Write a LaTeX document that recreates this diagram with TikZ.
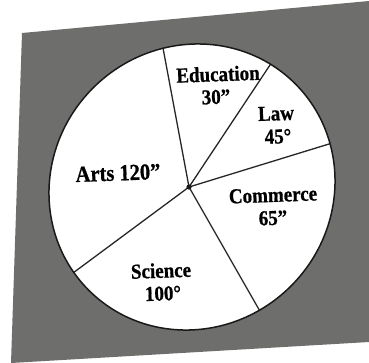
\documentclass[tikz,border=0pt]{standalone}
\usepackage{fontspec}
\setmainfont{Liberation Serif}[BoldFeatures={FakeBold=0.8}]
\usetikzlibrary{calc}
\begin{document}
\begin{tikzpicture}[x=1pt,y=-1pt,
  lbl/.style={font=\bfseries\fontsize{19}{21}\selectfont, inner sep=0pt, rotate=2, yscale=1.12},
  radial/.style={line width=1.3pt, black!85},
  bg/.style={fill={rgb,255:red,110;green,111;blue,108}, draw=none}]
\useasboundingbox (0,0) rectangle (369,362);
% gray scanned background
\fill[bg] (22,33) -- (369,1) -- (369,342) -- (11,363) -- cycle;
% pie
\coordinate (c) at (189,187);
\coordinate (e) at (192,187);
\fill[white, rotate around={45:(e)}] (e) ellipse [x radius=146, y radius=140];
\begin{scope}
  \clip[rotate around={45:(e)}] (e) ellipse [x radius=146, y radius=140];
  \coordinate (p1) at (163,48);
  \coordinate (p2) at (272,62);
  \coordinate (p3) at (329,144);
  \coordinate (p4) at (257,306);
  \coordinate (p5) at (73,273);
  \foreach \p in {p1,p2,p3,p4,p5}
    \draw[radial] (c) -- ($(c)!1.3!(\p)$);
\end{scope}
\draw[line width=1.5pt, black!90, rotate around={45:(e)}] (e) ellipse [x radius=146, y radius=140];
\fill[black!90] (c) circle (2.6);
% labels
\node[lbl] (ed) at (218,74) {Education};
\node[lbl] (edv) at (216,97) {30”};
\node[lbl] (lw) at (276,113.5) {Law};
\node[lbl] (lwv) at (278,136.5) {45°};
\node[lbl, font=\bfseries\fontsize{20.5}{22}\selectfont] (ar) at (118,173) {Arts 120”};
\node[lbl] (cm) at (273,195) {Commerce};
\node[lbl] (cmv) at (273,218) {65”};
\node[lbl] (sc) at (161,270.5) {Science};
\node[lbl] (scv) at (163,293.5) {100°};
\end{tikzpicture}
\end{document}
